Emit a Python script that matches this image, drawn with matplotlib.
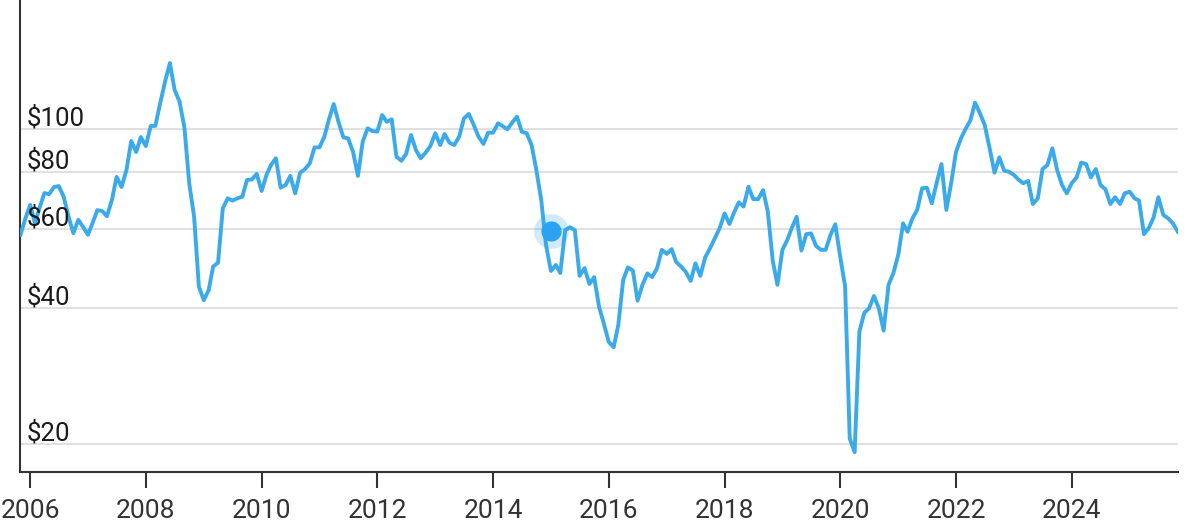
import pandas as pd
import matplotlib
matplotlib.use('Agg')
import matplotlib.pyplot as plt
from matplotlib.ticker import NullLocator

plt.rcParams['font.family'] = ['Roboto', 'DejaVu Sans']

# monthly price, Nov 2005 .. Nov 2025
start_month = '2005-11-01'
prices = [
    58.2, 63.1,
    67.8, 61.8, 66.7, 72.0, 71.6, 74.3, 74.6, 70.6, 63.7, 58.7, 62.8, 60.6,        # 2006
    58.2, 62.1, 66.0, 65.7, 64.0, 69.5, 78.2, 74.3, 81.0, 93.9, 88.8, 95.8,        # 2007
    91.5, 101.4, 101.4, 114.0, 126.9, 139.8, 121.8, 114.8, 100.4, 75.7, 63.8, 44.7,  # 2008
    41.7, 43.9, 49.5, 50.5, 66.6, 70.1, 69.3, 70.1, 70.7, 77.0, 77.2, 79.4,        # 2009
    72.8, 79.0, 83.1, 86.0, 74.0, 75.0, 78.6, 71.9, 79.9, 81.3, 83.8, 90.9,        # 2010
    90.9, 96.0, 104.5, 113.4, 103.6, 95.7, 95.2, 88.9, 78.6, 93.6, 100.2, 98.8,    # 2011
    98.5, 107.2, 103.6, 104.9, 86.7, 84.9, 87.9, 96.8, 89.7, 86.0, 88.5, 91.5,     # 2012
    97.7, 92.0, 97.3, 93.1, 92.0, 96.0, 105.4, 107.8, 101.9, 96.0, 92.5, 98.0,     # 2013
    98.0, 102.8, 101.4, 99.7, 103.1, 106.3, 98.5, 97.7, 92.0, 81.0, 69.5, 55.3,    # 2014
    48.4, 49.9, 47.9, 59.6, 60.5, 59.6, 47.2, 49.1, 45.3, 46.9, 40.3, 37.0,        # 2015
    33.7, 32.8, 36.7, 46.2, 49.3, 48.5, 41.6, 45.1, 47.8, 46.9, 49.1, 53.9,        # 2016
    52.8, 54.1, 50.7, 49.5, 48.2, 46.0, 50.3, 47.2, 51.9, 54.3, 57.2, 60.2,        # 2017
    64.9, 61.5, 65.1, 68.7, 67.2, 74.4, 69.8, 69.8, 73.1, 65.5, 51.0, 45.1,        # 2018
    53.9, 56.7, 60.2, 63.8, 53.7, 58.4, 58.6, 55.0, 53.9, 53.9, 58.2, 61.4,        # 2019
    52.0, 44.7, 20.6, 19.2, 35.5, 39.1, 40.0, 42.6, 40.0, 35.7, 45.1, 47.8,        # 2020
    52.5, 61.7, 59.1, 63.3, 66.1, 73.8, 74.0, 68.3, 75.9, 83.5, 66.1, 75.7,        # 2021
    88.9, 95.2, 99.7, 104.2, 114.2, 108.2, 101.9, 90.5, 79.9, 86.4, 80.7, 80.3,    # 2022
    79.0, 77.0, 75.7, 76.6, 68.1, 70.1, 81.4, 83.1, 90.5, 81.0, 75.0, 71.9,        # 2023
    75.7, 78.0, 84.1, 83.5, 78.0, 81.4, 75.0, 73.4, 68.1, 70.5, 68.1, 71.9,        # 2024
    72.5, 70.1, 69.3, 58.4, 60.2, 63.6, 70.5, 64.4, 63.3, 61.7, 59.1,              # 2025
]

tick_years = [2006, 2008, 2010, 2012, 2014, 2016, 2018, 2020, 2022, 2024]
y_ticks = [20, 40, 60, 80, 100]
y_labels = ['$20', '$40', '$60', '$80', '$100']

highlight_date = '2015-01-04'
highlight_price = 59.2

dates = pd.date_range(start_month, periods=len(prices), freq='MS')

fig = plt.figure(figsize=(12, 5.27), dpi=100)
ax = fig.add_axes([20 / 1200, 1 - 471.5 / 527, 1158 / 1200, 471.5 / 527])

ax.plot(dates, prices, color='#3aaaea', lw=2.8, solid_joinstyle='round', zorder=3)

ax.plot([pd.Timestamp(highlight_date)], [highlight_price], 'o', ms=25,
        color='#2ba2f2', alpha=0.22, mec='none', zorder=4)
ax.plot([pd.Timestamp(highlight_date)], [highlight_price], 'o', ms=14.5,
        color='#2ba2f2', mec='none', zorder=5)

ax.set_yscale('log')
ax.set_ylim(17.4, 192.8)
ax.set_xlim(pd.Timestamp('2005-10-29'), pd.Timestamp('2025-11-02'))
ax.yaxis.set_major_locator(NullLocator())
ax.yaxis.set_minor_locator(NullLocator())

for v, lab in zip(y_ticks, y_labels):
    ax.axhline(v, color='#dddddd', lw=1.3, zorder=1)
    ax.annotate(lab, xy=(0, v), xycoords=('axes fraction', 'data'),
                xytext=(5, 2.5), textcoords='offset points',
                fontsize=18.5, color='#1a1a1a', ha='left', va='baseline', zorder=6)

ax.set_xticks([pd.Timestamp(f'{y}-01-01') for y in tick_years])
ax.set_xticklabels([str(y) for y in tick_years])
ax.tick_params(axis='x', length=11.5, width=1.5, color='#333333', pad=8,
               labelsize=19, labelcolor='#333333')

for s in ['top', 'right']:
    ax.spines[s].set_visible(False)
for s in ['left', 'bottom']:
    ax.spines[s].set_color('#333333')
    ax.spines[s].set_linewidth(1.5)

fig.savefig('out.png', dpi=100)
